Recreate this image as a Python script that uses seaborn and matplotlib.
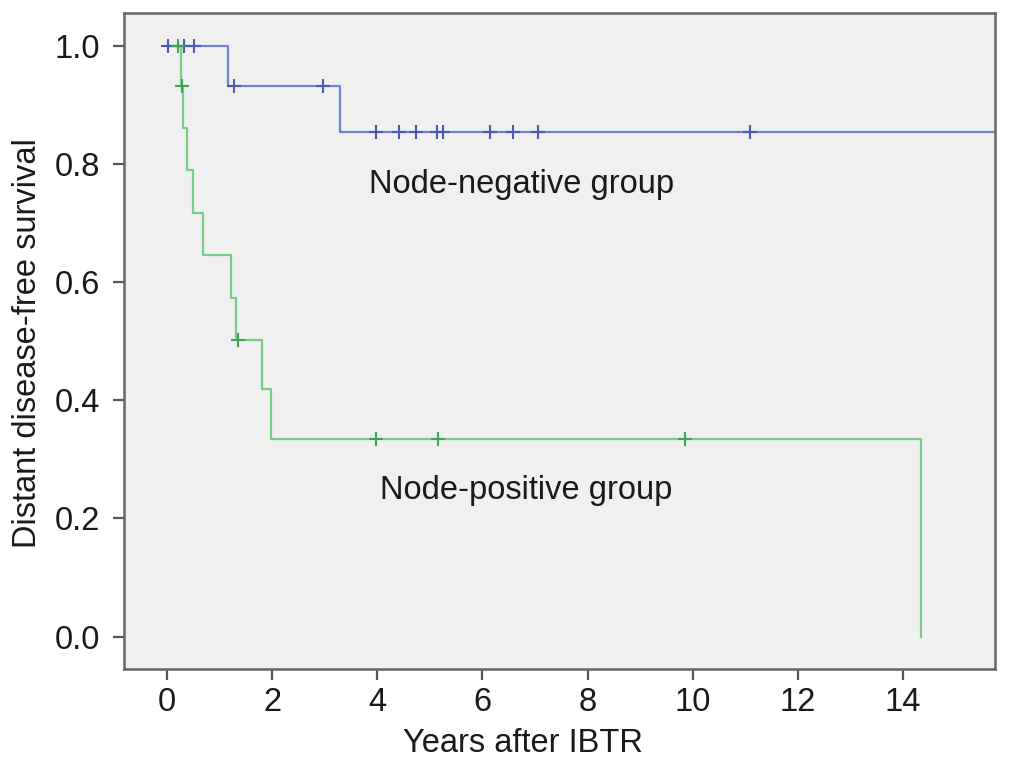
import matplotlib
matplotlib.use("Agg")
import matplotlib.pyplot as plt
import seaborn as sns
import pandas as pd

# ---- data ----
neg_times = [0.0, 1.16, 3.29, 16.2]
neg_surv = [1.0, 0.933, 0.855, 0.855]
neg_cens_t = [0.02, 0.32, 0.51, 1.27, 2.97, 3.97, 4.42, 4.74, 5.13, 5.25, 6.15, 6.58, 7.05, 11.08]
neg_cens_s = [1.0, 1.0, 1.0, 0.933, 0.933, 0.855, 0.855, 0.855, 0.855, 0.855, 0.855, 0.855, 0.855, 0.855]

pos_times = [0.0, 0.26, 0.31, 0.37, 0.49, 0.68, 1.21, 1.32, 1.81, 1.97, 14.35]
pos_surv = [1.0, 0.933, 0.862, 0.790, 0.718, 0.646, 0.574, 0.503, 0.419, 0.335, 0.0]
pos_cens_t = [0.2, 0.29, 1.35, 3.97, 5.15, 9.85]
pos_cens_s = [1.0, 0.933, 0.503, 0.335, 0.335, 0.335]

x_ticks = [0, 2, 4, 6, 8, 10, 12, 14]
y_ticks = [0.0, 0.2, 0.4, 0.6, 0.8, 1.0]
group_labels = ["Node-negative group", "Node-positive group"]

# ---- style ----
sns.set_theme(style="ticks")
plt.rcParams["font.family"] = ["Liberation Sans", "DejaVu Sans"]

FS = 23.5
blue_line = "#7282d0"
blue_mark = "#4a5ab0"
green_line = "#78cc86"
green_mark = "#3fa556"
text_col = "#1a1a1a"

fig = plt.figure(figsize=(10.1, 7.73), dpi=100)
ax = fig.add_axes([124 / 1010, 1 - 669 / 773, (995 - 124) / 1010, (669 - 13) / 773])
ax.set_facecolor("#f0f0f0")

neg_df = pd.DataFrame({"t": neg_times, "s": neg_surv})
pos_df = pd.DataFrame({"t": pos_times, "s": pos_surv})

sns.lineplot(data=neg_df, x="t", y="s", ax=ax, estimator=None, sort=False,
             drawstyle="steps-post", color=blue_line, linewidth=1.6)
sns.lineplot(data=pos_df, x="t", y="s", ax=ax, estimator=None, sort=False,
             drawstyle="steps-post", color=green_line, linewidth=1.6)

sns.scatterplot(x=neg_cens_t, y=neg_cens_s, ax=ax, marker="+", s=90,
                color=blue_mark, linewidth=1.5, zorder=5)
sns.scatterplot(x=pos_cens_t, y=pos_cens_s, ax=ax, marker="+", s=90,
                color=green_mark, linewidth=1.5, zorder=5)

ax.text(3.85, 0.765, group_labels[0], fontsize=FS, color=text_col, va="center", ha="left")
ax.text(4.05, 0.248, group_labels[1], fontsize=FS, color=text_col, va="center", ha="left")

ax.set_xlim(-0.82, 15.75)
ax.set_ylim(-0.055, 1.056)
ax.set_xticks(x_ticks)
ax.set_yticks(y_ticks)
ax.set_yticklabels([f"{v:.1f}" for v in y_ticks])
ax.tick_params(axis="both", labelsize=FS, length=8, width=1.6, color="#555555",
               labelcolor=text_col)
ax.tick_params(axis="x", pad=5)
ax.tick_params(axis="y", pad=9)
ax.set_xlabel("Years after IBTR", fontsize=FS, color=text_col)
ax.set_ylabel("Distant disease-free survival", fontsize=FS, color=text_col)
ax.xaxis.set_label_coords(0.458, -0.09)
ax.yaxis.set_label_coords(-0.093, 0.497)

for sp in ax.spines.values():
    sp.set_visible(True)
    sp.set_color("#666666")
    sp.set_linewidth(1.8)

fig.savefig("out.png", dpi=100, facecolor="white")
